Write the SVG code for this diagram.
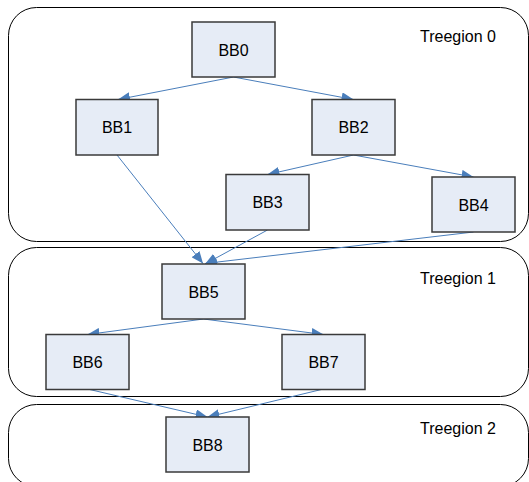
<svg xmlns="http://www.w3.org/2000/svg" width="529" height="482" viewBox="0 0 529 482">
<defs>
<marker id="ah" viewBox="0 0 12 10" refX="12" refY="5" markerWidth="12" markerHeight="10" markerUnits="userSpaceOnUse" orient="auto">
<path d="M0,0 L12,5 L0,10 z" fill="#4a7ebb"/>
</marker>
<style>
.region{fill:none;stroke:#000;stroke-width:1}
.node rect{fill:#e6ecf6;stroke:#3a3a3a;stroke-width:1.5}
text{font-family:"Liberation Sans",Arial,sans-serif;font-size:16px;fill:#000}
.node text{text-anchor:middle}
.edges line{stroke:#4a7ebb;stroke-width:1;marker-end:url(#ah)}
</style>
</defs>
<rect width="529" height="482" fill="#fff"/>
<g id="treegion0"><rect class="region" x="8.5" y="7.5" width="520" height="234" rx="28"/><text x="420" y="42">Treegion 0</text></g>
<g id="treegion1"><rect class="region" x="8.5" y="247.5" width="520" height="149" rx="28"/><text x="420" y="284">Treegion 1</text></g>
<g id="treegion2"><rect class="region" x="8.5" y="404.5" width="520" height="82" rx="28"/><text x="420" y="434">Treegion 2</text></g>
<g class="edges" id="connectors">
<line x1="233.5" y1="77" x2="118" y2="99.5"/>
<line x1="233.5" y1="77" x2="353.5" y2="99.5"/>
<line x1="353.5" y1="155" x2="267.5" y2="174.5"/>
<line x1="353.5" y1="155" x2="473.5" y2="177"/>
<line x1="117" y1="155" x2="203" y2="263.5"/>
<line x1="267.5" y1="230" x2="205" y2="264"/>
<line x1="473.5" y1="232" x2="205" y2="263.5"/>
<line x1="203.5" y1="319" x2="87.5" y2="334.5"/>
<line x1="203.5" y1="319" x2="323.5" y2="334.5"/>
<line x1="87.5" y1="389" x2="207.5" y2="417"/>
<line x1="323.5" y1="389" x2="207.5" y2="417"/>
</g>
<g class="node" id="BB0"><rect x="192" y="22" width="83" height="55"/><text x="233.5" y="55.5">BB0</text></g>
<g class="node" id="BB1"><rect x="76" y="99.5" width="82" height="55.5"/><text x="117" y="133">BB1</text></g>
<g class="node" id="BB2"><rect x="312" y="99.5" width="83" height="55.5"/><text x="353.5" y="133">BB2</text></g>
<g class="node" id="BB3"><rect x="226" y="174.5" width="83" height="55.5"/><text x="267.5" y="208">BB3</text></g>
<g class="node" id="BB4"><rect x="432" y="177" width="83" height="55"/><text x="473.5" y="210.5">BB4</text></g>
<g class="node" id="BB5"><rect x="162" y="264" width="83" height="55"/><text x="203.5" y="297.5">BB5</text></g>
<g class="node" id="BB6"><rect x="46" y="334.5" width="83" height="55"/><text x="87.5" y="368">BB6</text></g>
<g class="node" id="BB7"><rect x="282" y="334.5" width="83" height="55"/><text x="323.5" y="368">BB7</text></g>
<g class="node" id="BB8"><rect x="166" y="417" width="83" height="55"/><text x="207.5" y="450.5">BB8</text></g>
</svg>
